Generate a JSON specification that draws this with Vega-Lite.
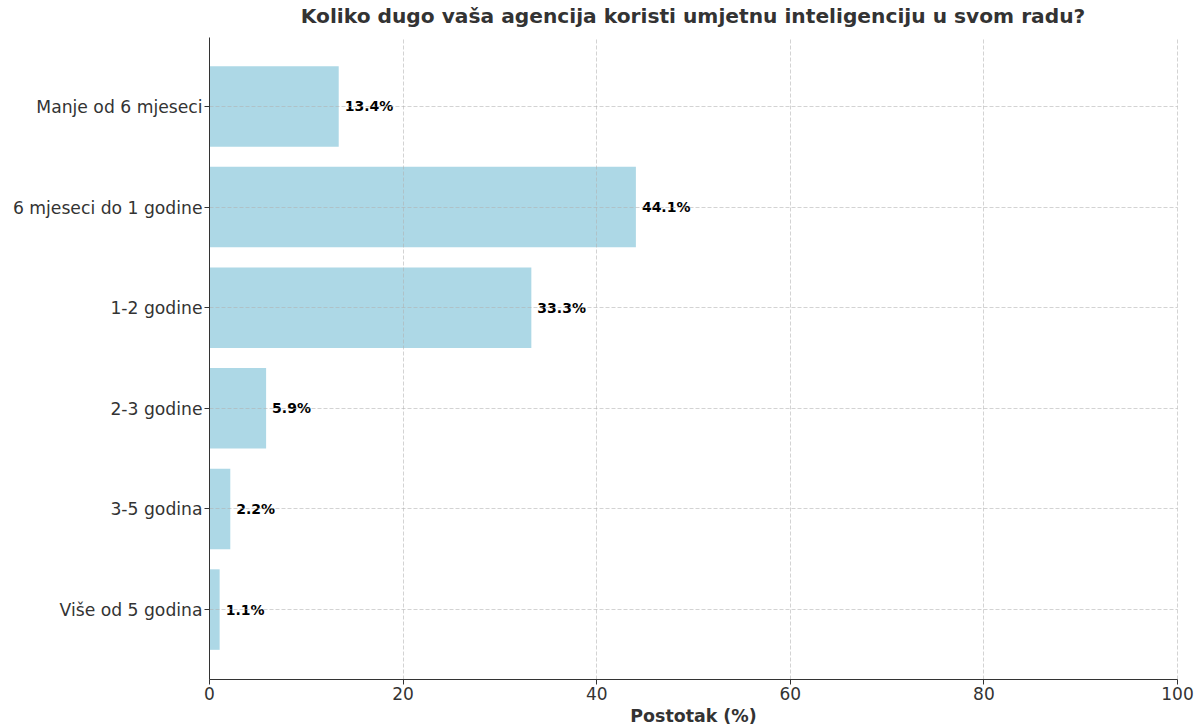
{
  "$schema": "https://vega.github.io/schema/vega-lite/v6.json",
  "width": 968,
  "height": 642,
  "autosize": {"type": "none"},
  "padding": {"left": 209, "top": 37, "right": 24, "bottom": 47},
  "background": "white",
  "config": {
    "font": "DejaVu Sans",
    "view": {"stroke": null}
  },
  "title": {
    "text": "Koliko dugo vaša agencija koristi umjetnu inteligenciju u svom radu?",
    "font": "DejaVu Sans",
    "fontSize": 20.2,
    "fontWeight": "bold",
    "color": "#333333",
    "anchor": "middle",
    "offset": 10
  },
  "data": {
    "values": [
      {"kategorija": "Manje od 6 mjeseci", "postotak": 13.4},
      {"kategorija": "6 mjeseci do 1 godine", "postotak": 44.1},
      {"kategorija": "1-2 godine", "postotak": 33.3},
      {"kategorija": "2-3 godine", "postotak": 5.9},
      {"kategorija": "3-5 godina", "postotak": 2.2},
      {"kategorija": "Više od 5 godina", "postotak": 1.1}
    ]
  },
  "encoding": {
    "y": {
      "field": "kategorija",
      "type": "nominal",
      "sort": null,
      "scale": {"paddingInner": 0.2, "paddingOuter": 0.29},
      "axis": {
        "title": null,
        "bandPosition": 0.5,
        "labelFont": "DejaVu Sans",
        "labelFontSize": 17.2,
        "labelColor": "#333333",
        "labelLimit": 400,
        "labelPadding": 2,
        "labelOffset": 1.5,
        "tickSize": 5,
        "tickColor": "#333333",
        "domainColor": "#333333",
        "grid": true,
        "gridColor": "#b0b0b0",
        "gridOpacity": 0.7,
        "gridDash": [4, 2],
        "gridWidth": 0.8,
        "zindex": 1
      }
    }
  },
  "layer": [
    {
      "mark": {"type": "bar", "color": "#ADD8E6"},
      "encoding": {
        "x": {
          "field": "postotak",
          "type": "quantitative",
          "scale": {"domain": [0, 100], "nice": false},
          "axis": {
            "title": "Postotak (%)",
            "titleFont": "DejaVu Sans",
            "titleFontSize": 17.4,
            "titleFontWeight": "bold",
            "titleColor": "#333333",
            "titlePadding": 5,
            "values": [0, 20, 40, 60, 80, 100],
            "labelFont": "DejaVu Sans",
            "labelFontSize": 17,
            "labelColor": "#333333",
            "labelPadding": 2,
            "labelFlush": false,
            "tickSize": 5,
            "tickColor": "#333333",
            "domainColor": "#333333",
            "grid": true,
            "gridColor": "#b0b0b0",
            "gridOpacity": 0.7,
            "gridDash": [4, 2],
            "gridWidth": 0.8,
            "zindex": 1
          }
        }
      }
    },
    {
      "mark": {
        "type": "text",
        "align": "left",
        "baseline": "middle",
        "dx": 6,
        "dy": 1,
        "font": "DejaVu Sans",
        "fontSize": 14,
        "fontWeight": "bold",
        "color": "#000000",
        "text": {"expr": "format(datum.postotak, '.1f') + '%'"}
      },
      "encoding": {
        "x": {"field": "postotak", "type": "quantitative"}
      }
    }
  ]
}
